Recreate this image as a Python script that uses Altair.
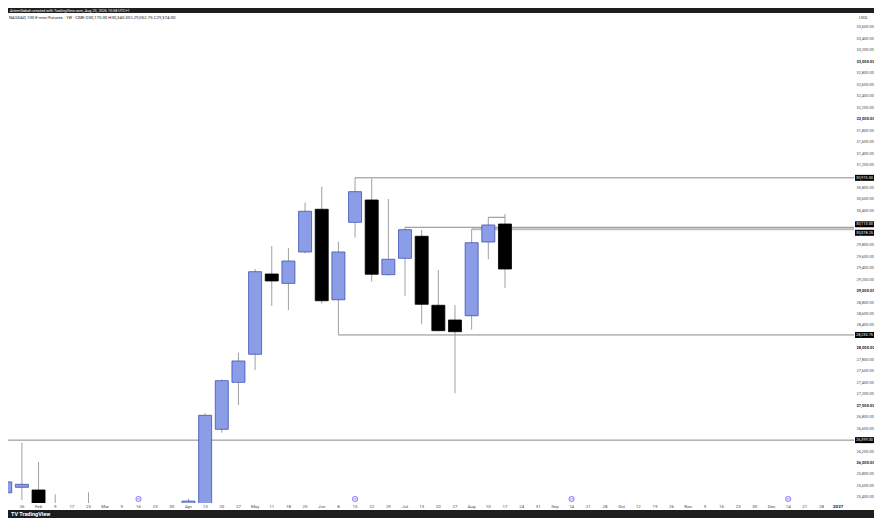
import altair as alt
import pandas as pd

# weekly bars, NASDAQ 100 E-mini futures (CME), 1W
weeks = ["2026-01-19", "2026-01-26", "2026-02-02", "2026-02-09", "2026-02-16", "2026-02-23",
         "2026-03-02", "2026-03-09", "2026-03-16", "2026-03-23", "2026-03-30", "2026-04-06",
         "2026-04-13", "2026-04-20", "2026-04-27", "2026-05-04", "2026-05-11", "2026-05-18",
         "2026-05-25", "2026-06-01", "2026-06-08", "2026-06-15", "2026-06-22", "2026-06-29",
         "2026-07-06", "2026-07-13", "2026-07-20", "2026-07-27", "2026-08-03", "2026-08-10",
         "2026-08-17"]
opens = [25480, 25576, 25529, 25000, 24810, 24950, 24700, 24300, 23900, 24100, 24600, 24900,
         25280, 26588, 27408, 27897, 29298, 29134, 29682, 30427, 28848, 30200, 30589, 29286,
         29572, 29956, 28752, 28495, 28570, 29856, 30170]
highs = [25700, 26349, 26023, 25454, 25150, 25489, 25100, 24800, 24400, 24900, 25200, 25377,
         26867, 27460, 27925, 29385, 29787, 29752, 30545, 30822, 29862, 30975.5, 30960, 30606,
         30113, 30066, 29368, 28757, 30078, 30287, 30345]
lows = [25420, 25354, 24900, 24620, 24400, 24500, 24100, 23600, 23300, 23700, 24300, 24850,
        25150, 26529, 27012, 27623, 28743, 28668, 29660, 28785, 28234, 29932, 29164, 29270,
        28914, 28420, 28295, 27216, 28326, 29555, 29054]
closes = [25670, 25628, 25050, 24810, 24950, 24700, 24300, 23900, 24100, 24600, 24900, 25335,
          26832, 27436, 27780, 29338, 29176, 29524, 30392, 28831, 29682, 30734, 29293, 29555,
          30071, 28769, 28309, 28291, 29844, 30153, 29385]

# horizontal levels drawn on the chart
level_start = ["2026-06-15", "2026-07-06", "2026-08-03", "2026-06-08", "2026-01-19"]
level_price = [30975.5, 30113, 30078, 28234, 26399]
level_text = ["30,975.50", "30,113.00", "30,078.25", "28,233.75", "26,399.00"]

# price scale labels
price_ticks = list(range(25400, 33601, 200))

# x axis tick labels (one per week, from Jan 26)
tick_labels = ["26", "Feb", "9", "17", "23", "Mar", "9", "16", "23", "30", "Apr", "13", "20", "27",
               "May", "11", "18", "25", "Jun", "8", "15", "22", "29", "Jul", "13", "20", "27",
               "Aug", "10", "17", "24", "31", "Sep", "14", "21", "28", "Oct", "12", "19", "26",
               "Nov", "9", "16", "23", "30", "Dec", "14", "21", "28", "2027"]
event_weeks = ["2026-03-16", "2026-06-15", "2026-09-14", "2026-12-14"]

creator = "ArtemGabah created with TradingView.com, Aug 23, 2026 10:58 UTC+1"
header = "NASDAQ 100 E-mini Futures · 1W · CME   O30,175.00  H30,345.00  L29,052.75  C29,374.00"

UP = "#8c9de8"
UP_EDGE = "#3f51b5"
WICK = "#a0a0a0"
LABEL = "#4a4a4a"
W, H = 846, 495
RP = 20  # right price scale strip


def ms(d):
    return int(pd.Timestamp(d, tz="UTC").value // 10**6)


ohlc = pd.DataFrame({"week": weeks, "open": opens, "high": highs, "low": lows, "close": closes})
ohlc["dir"] = ["up" if c >= o else "down" for o, c in zip(opens, closes)]

ticks = pd.DataFrame({
    "week": pd.date_range("2026-01-26", periods=len(tick_labels), freq="7D").strftime("%Y-%m-%d"),
    "label": tick_labels,
})
ticks["bold"] = ticks["label"] == "2027"

prices = pd.DataFrame({"price": price_ticks})
prices["label"] = [f"{v:,.2f}" for v in price_ticks]
prices["bold"] = [v % 1000 == 0 for v in price_ticks]
# the price boxes hide the scale labels under them
prices = prices[[min(abs(v - p) for p in level_price) > 90 for v in price_ticks]]

x_scale = alt.Scale(type="utc", domain=[ms("2026-01-22 06:18"), ms("2027-01-08 13:40")])
y_scale = alt.Scale(domain=[25302, 33939], zero=False, nice=False)

base = alt.Chart(ohlc)

wicks = base.mark_rule(color=WICK, strokeWidth=1, clip=True).encode(
    x=alt.X("week:T", scale=x_scale, axis=None),
    y=alt.Y("low:Q", scale=y_scale, axis=None),
    y2="high:Q",
)

bodies = base.mark_bar(width=13, strokeWidth=0.8, clip=True).encode(
    x="week:T",
    y="open:Q",
    y2="close:Q",
    color=alt.Color("dir:N", scale=alt.Scale(domain=["up", "down"], range=[UP, "#000000"]), legend=None),
    stroke=alt.Stroke("dir:N", scale=alt.Scale(domain=["up", "down"], range=[UP_EDGE, "#000000"]), legend=None),
)

levels = pd.DataFrame({"start": level_start, "price": level_price, "label": level_text})
level_lines = alt.Chart(levels).mark_rule(color="#8a8a8a", strokeWidth=1, clip=True).encode(
    x="start:T", x2=alt.value(W), y="price:Q"
)
thick = alt.Chart(levels.iloc[[2]]).mark_rule(color="#bcbcbc", strokeWidth=2, clip=True).encode(
    x="start:T", x2=alt.value(W), y="price:Q"
)
bracket = alt.Chart(pd.DataFrame({"a": ["2026-08-10"], "b": ["2026-08-17"], "p": [30287]})).mark_rule(
    color="#8a8a8a", strokeWidth=1
).encode(x="a:T", x2="b:T", y="p:Q")

# price scale on the right
price_layers = []
for is_bold in (False, True):
    price_layers.append(alt.Chart(prices[prices["bold"] == is_bold]).mark_text(
        color=LABEL if not is_bold else "#222222", fontSize=4.0, align="left", baseline="middle",
        fontWeight="bold" if is_bold else "normal"
    ).encode(x=alt.value(W + 2.5), y="price:Q", text="label:N"))

# time scale at the bottom
time_layers = []
for is_bold in (False, True):
    time_layers.append(alt.Chart(ticks[ticks["bold"] == is_bold]).mark_text(
        color=LABEL if not is_bold else "#222222", fontSize=4.4, align="center", baseline="middle",
        fontWeight="bold" if is_bold else "normal"
    ).encode(x="week:T", y=alt.value(H + 4), text="label:N"))

boxes = []
for idx, off in [(0, 0), (1, -3), (2, 3.5), (3, 0), (4, 0)]:
    one = alt.Chart(levels.iloc[[idx]])
    boxes.append(one.mark_rule(color="#000000", strokeWidth=6, yOffset=off).encode(
        x=alt.value(W + 1), x2=alt.value(W + RP), y="price:Q"))
    boxes.append(one.mark_text(color="#ffffff", fontSize=3.9, align="center", baseline="middle",
                               dy=off).encode(x=alt.value(W + 1 + (RP - 1) / 2), y="price:Q", text="label:N"))

events = alt.Chart(pd.DataFrame({"week": event_weeks})).mark_point(
    shape="circle", size=24, filled=True, fill="#ffffff", stroke="#7c4dff", strokeWidth=1.1
).encode(x="week:T", y=alt.value(H - 4))
events_bar = alt.Chart(pd.DataFrame({"week": event_weeks})).mark_point(
    shape="M-0.6,0H0.6", size=24, filled=False, color="#7c4dff", strokeWidth=1
).encode(x="week:T", y=alt.value(H - 4))

one_row = alt.Chart(pd.DataFrame({"t": [creator]}))
top_bar = one_row.mark_rect(color="#1e1e1e").encode(
    x=alt.value(0), x2=alt.value(W + RP), y=alt.value(0), y2=alt.value(5))
top_text = one_row.mark_text(color="#ffffff", fontSize=3.8, align="left", baseline="middle").encode(
    x=alt.value(2), y=alt.value(2.6), text="t:N")
head_text = alt.Chart(pd.DataFrame({"t": [header]})).mark_text(
    color="#131722", fontSize=4.3, align="left", baseline="middle").encode(
    x=alt.value(1), y=alt.value(10), text="t:N")
usd = alt.Chart(pd.DataFrame({"t": ["USD"]})).mark_text(
    color=LABEL, fontSize=4.4, align="left", baseline="middle").encode(
    x=alt.value(W + 5), y=alt.value(10), text="t:N")
bottom_bar = one_row.mark_rect(color="#1e1e1e").encode(
    x=alt.value(0), x2=alt.value(W + RP), y=alt.value(H + 7), y2=alt.value(H + 15))
logo = alt.Chart(pd.DataFrame({"t": ["TV TradingView"]})).mark_text(
    color="#ffffff", fontSize=5.5, fontWeight="bold", align="left", baseline="middle").encode(
    x=alt.value(3), y=alt.value(H + 11), text="t:N")

chart = alt.layer(
    wicks, level_lines, thick, bracket, bodies, *price_layers, *time_layers, *boxes,
    events, events_bar, top_bar, top_text, head_text, usd, bottom_bar, logo
).properties(
    width=W,
    height=H,
    autosize=alt.AutoSizeParams(type="none"),
    padding={"left": 0, "top": 0, "right": RP, "bottom": 15},
).configure(
    font="Roboto", background="#ffffff"
).configure_view(strokeWidth=0)

chart.save("out.html", embed_options={"renderer": "svg", "actions": False})
